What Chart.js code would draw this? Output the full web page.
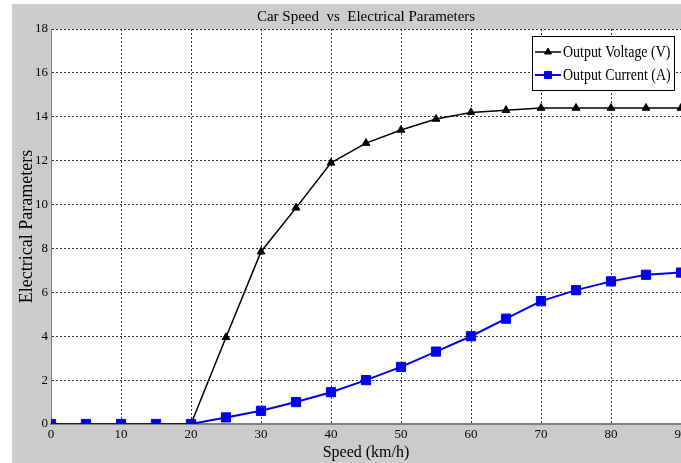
<!DOCTYPE html>
<html>
<head>
<meta charset="utf-8">
<script src="https://cdn.jsdelivr.net/npm/chart.js@4.4.0/dist/chart.umd.min.js"></script>
<style>
  html, body { margin: 0; padding: 0; background: #fff; }
  #wrap { width: 681px; height: 463px; position: relative; }
</style>
</head>
<body>
<div id="wrap"><canvas id="myChart"></canvas></div>
<script>
// speed in km/h
var speeds = [0, 5, 10, 15, 20, 25, 30, 35, 40, 45, 50, 55, 60, 65, 70, 75, 80, 85, 90];
var voltage = [0, 0, 0, 0, 0, 3.95, 7.85, 9.85, 11.9, 12.8, 13.4, 13.9, 14.2, 14.3, 14.4, 14.4, 14.4, 14.4, 14.4];
var current = [0, 0, 0, 0, 0, 0.3, 0.6, 1.0, 1.45, 2.0, 2.6, 3.3, 4.0, 4.8, 5.6, 6.1, 6.5, 6.8, 6.9];
var seriesNames = ['Output Voltage (V)', 'Output Current (A)'];

var serif = "'Liberation Serif', 'Times New Roman', serif";

function toPoints(ys) {
    var pts = [];
    for (var i = 0; i < speeds.length; i++) {
        pts.push({ x: speeds[i], y: ys[i] });
    }
    return pts;
}

// grey figure background, white plot area
var backdrop = {
    id: 'backdrop',
    beforeDraw: function (chart) {
        var ctx = chart.ctx, a = chart.chartArea;
        ctx.save();
        ctx.fillStyle = '#cccccc';
        ctx.fillRect(12, 4, chart.width - 12, chart.height - 4);
        ctx.fillStyle = '#ffffff';
        ctx.fillRect(a.left, a.top, a.right - a.left, a.bottom - a.top);
        ctx.restore();
    }
};

// matlab-like legend box in the top right corner of the plot
var boxLegend = {
    id: 'boxLegend',
    afterDraw: function (chart) {
        var ctx = chart.ctx, a = chart.chartArea;
        var w = 142, h = 54;
        var x0 = a.right - 7 - w, y0 = a.top + 7;
        ctx.save();
        ctx.fillStyle = '#fff';
        ctx.fillRect(x0, y0, w, h);
        ctx.strokeStyle = '#000';
        ctx.lineWidth = 1;
        ctx.strokeRect(x0 + 0.5, y0 + 0.5, w, h);
        var rows = [y0 + 16, y0 + 39];
        var radii = [4, 5];
        chart.data.datasets.forEach(function (ds, i) {
            var y = rows[i];
            ctx.strokeStyle = ds.borderColor;
            ctx.fillStyle = ds.backgroundColor;
            ctx.lineWidth = i === 0 ? 1.5 : 2;
            ctx.beginPath();
            ctx.moveTo(x0 + 3, y);
            ctx.lineTo(x0 + 29, y);
            ctx.stroke();
            ctx.lineWidth = 1;
            Chart.helpers.drawPoint(ctx, {
                pointStyle: ds.pointStyle, radius: radii[i], borderWidth: 1
            }, x0 + 16, y);
            ctx.fillStyle = '#000';
            ctx.font = '17px ' + serif;
            ctx.textBaseline = 'middle';
            ctx.save();
            ctx.translate(x0 + 31, y + 1);
            ctx.scale(0.82, 1);
            ctx.fillText(ds.label, 0, 0);
            ctx.restore();
        });
        ctx.restore();
    }
};

var config = {
    type: 'scatter',
    data: {
        datasets: [{
            label: seriesNames[0],
            data: toPoints(voltage),
            showLine: true,
            borderColor: '#000000',
            backgroundColor: '#000000',
            borderWidth: 1.5,
            pointStyle: 'triangle',
            pointRadius: 4.5,
            pointBorderWidth: 1,
            order: 2
        }, {
            label: seriesNames[1],
            data: toPoints(current),
            showLine: true,
            borderColor: '#0000f0',
            backgroundColor: '#0000f0',
            borderWidth: 2,
            pointStyle: 'rect',
            pointRadius: 6.5,
            pointBorderWidth: 1,
            order: 1
        }]
    },
    options: {
        responsive: false,
        animation: false,
        layout: { autoPadding: false, padding: { left: 0, right: 0, top: 0, bottom: 0 } },
        elements: { line: { tension: 0 } },
        plugins: {
            legend: { display: false },
            tooltip: { enabled: false },
            title: {
                display: true,
                fullSize: false,
                text: 'Car Speed  vs  Electrical Parameters',
                color: '#000',
                font: { family: serif, size: 15, weight: 'normal', lineHeight: 1.2 },
                padding: { top: 8, bottom: 3 }
            }
        },
        scales: {
            x: {
                type: 'linear',
                min: 0,
                max: 90,
                ticks: {
                    stepSize: 10,
                    color: '#000',
                    padding: 3,
                    font: { family: serif, size: 13 }
                },
                grid: { color: '#333', borderDash: [2, 2], lineWidth: 1, drawTicks: false },
                border: { display: true, color: '#808080', width: 2, dash: [2, 2] },
                title: {
                    display: true,
                    text: 'Speed (km/h)',
                    color: '#000',
                    font: { family: serif, size: 16, lineHeight: 1.2 },
                    padding: { top: 0, bottom: 1 }
                },
                afterFit: function (scale) {
                    scale.height = 39;
                    scale.paddingRight = 0;
                    scale.paddingLeft = 0;
                }
            },
            y: {
                min: 0,
                max: 18,
                ticks: {
                    stepSize: 2,
                    color: '#000',
                    padding: 3,
                    font: { family: serif, size: 13 }
                },
                grid: { color: '#333', borderDash: [2, 2], lineWidth: 1, drawTicks: false },
                border: { display: true, color: '#808080', width: 1, dash: [2, 2] },
                title: {
                    display: true,
                    text: 'Electrical Parameters',
                    color: '#000',
                    font: { family: serif, size: 18, weight: 'normal', lineHeight: 1.2 },
                    padding: { top: 16, bottom: 0 }
                },
                afterFit: function (scale) {
                    scale.width = 51;
                }
            }
        }
    },
    plugins: [backdrop, boxLegend]
};

var canvas = document.getElementById('myChart');
canvas.width = 681;
canvas.height = 463;
var myChart = new Chart(canvas.getContext('2d'), config);
</script>
</body>
</html>
